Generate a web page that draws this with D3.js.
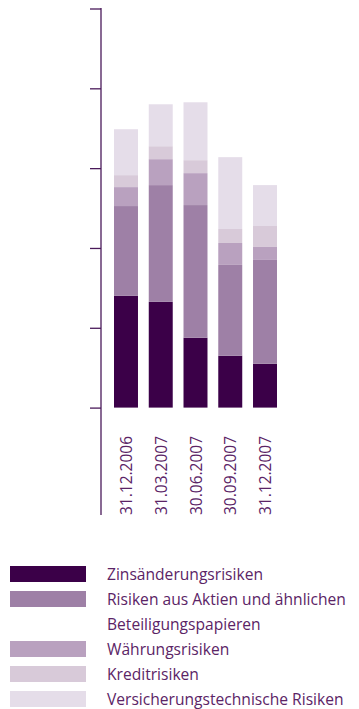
<!DOCTYPE html>
<html>
<head>
<meta charset="utf-8">
<script src="https://cdn.jsdelivr.net/npm/d3@7"></script>
<style>
html,body{margin:0;padding:0;background:#fff;}
svg{display:block;}
text{font-family:"Open Sans",sans-serif;fill:#5b2466;}
</style>
</head>
<body>
<svg id="chart" width="359" height="709"></svg>
<script>
const categories = ["31.12.2006","31.03.2007","30.06.2007","30.09.2007","31.12.2007"];
const seriesNames = ["Zinsänderungsrisiken","Risiken aus Aktien und ähnlichen Beteiligungspapieren","Währungsrisiken","Kreditrisiken","Versicherungstechnische Risiken"];
const zins = [28.0, 26.5, 17.5, 13.0, 11.0];
const aktien = [22.5, 29.25, 33.25, 22.75, 26.0];
const waehrung = [4.75, 6.5, 8.0, 5.5, 3.25];
const kredit = [3.0, 3.25, 3.25, 3.5, 5.25];
const versicherung = [11.5, 10.5, 14.5, 18.0, 10.25];
const yTicks = [0, 20, 40, 60, 80, 100];
const legendLines = [["Zinsänderungsrisiken"],["Risiken aus Aktien und ähnlichen","Beteiligungspapieren"],["Währungsrisiken"],["Kreditrisiken"],["Versicherungstechnische Risiken"]];
const colors = ["#3b0048","#9e80a6","#b9a1bf","#d8cad9","#e5dde9"];

const seriesValues = [zins, aktien, waehrung, kredit, versicherung];
const keys = ["zins","aktien","waehrung","kredit","versicherung"];
const table = categories.map((c,i)=>{
  const o = {cat:c};
  keys.forEach((k,j)=>o[k]=seriesValues[j][i]);
  return o;
});

const svg = d3.select("#chart");
const axisX = 101;
const y = d3.scaleLinear().domain([0,100]).range([407.6,8.5]);
const x = d3.scaleBand().domain(categories).range([114, 277]).paddingInner(0.31).paddingOuter(0);

const stack = d3.stack().keys(keys)(table);

svg.append("g").selectAll("g").data(stack).join("g")
  .attr("fill",(d,i)=>colors[i])
  .selectAll("rect").data(d=>d).join("rect")
  .attr("x",d=>x(d.data.cat))
  .attr("width",x.bandwidth())
  .attr("y",d=>y(d[1]))
  .attr("height",d=>y(d[0])-y(d[1]));

// axis
const axis = d3.axisLeft(y).tickValues(yTicks).tickSize(11).tickFormat("");
const ag = svg.append("g").attr("transform",`translate(${axisX},0)`).call(axis);
ag.select(".domain").remove();
ag.selectAll(".tick line").attr("stroke","#4a1a5a").attr("stroke-width",1.3);
svg.append("line").attr("x1",axisX).attr("x2",axisX).attr("y1",8).attr("y2",515)
  .attr("stroke","#4a1a5a").attr("stroke-width",1.3);

// category labels
svg.append("g").selectAll("text").data(categories).join("text")
  .attr("transform",d=>`translate(${x(d)+x.bandwidth()/2+6},515) rotate(-90)`)
  .attr("font-size",15.5)
  .text(d=>d);

// legend
const lg = svg.append("g");
let row = 0;
legendLines.forEach((lines,i)=>{
  const top = 566 + row*25;
  lg.append("rect").attr("x",10).attr("y",top).attr("width",76).attr("height",16).attr("fill",colors[i]);
  lines.forEach((t,k)=>{
    lg.append("text").attr("x",107).attr("y",top+14+k*25).attr("font-size",15.6).text(t);
  });
  row += lines.length;
});
</script>
</body>
</html>
